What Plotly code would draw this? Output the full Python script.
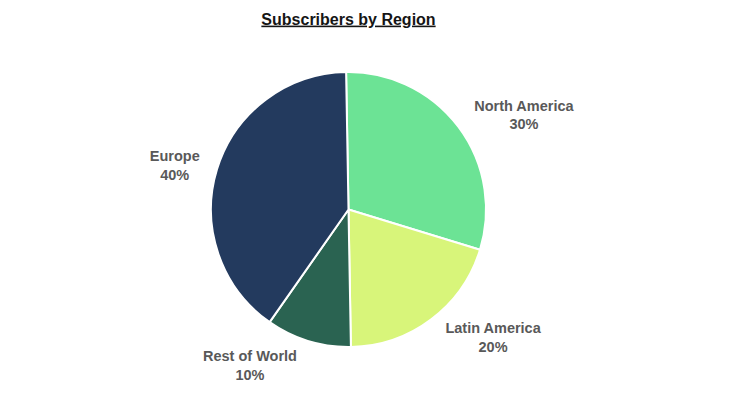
import plotly.graph_objects as go

regions = ["North America", "Latin America", "Rest of World", "Europe"]
shares = [30, 20, 10, 40]
colors = ["#6ce395", "#d8f57a", "#2a6351", "#233a5e"]

FONT = "Liberation Sans, Arial, sans-serif"

# Page body adds an 8px offset; geometry below is in figure pixels.
W, H = 748, 400
cx, cy, r = 340.5, 201.5, 137.5
label_r = r + 9


def dom(rad):
    return dict(x=[(cx - rad) / W, (cx + rad) / W],
                y=[1 - (cy + rad) / H, 1 - (cy - rad) / H])


common = dict(labels=regions, values=shares, sort=False,
              direction="clockwise", rotation=-1)

# Label carrier: a slightly larger, fully transparent pie so the outside
# labels sit a bit further from the visible pie.
label_pie = go.Pie(
    **common,
    marker=dict(colors=["rgba(0,0,0,0)"] * len(regions), line=dict(width=0)),
    texttemplate="<b>%{label}</b><br><b>%{percent:.0%}</b>",
    textposition="outside",
    textfont=dict(family=FONT, size=14.5, color="#595959"),
    hoverinfo="skip",
    domain=dom(label_r),
    automargin=False,
)

main_pie = go.Pie(
    **common,
    marker=dict(colors=colors, line=dict(color="white", width=2)),
    textinfo="none",
    hoverinfo="label+percent",
    domain=dom(r),
    automargin=False,
)

fig = go.Figure([label_pie, main_pie])

fig.update_layout(
    width=W, height=H,
    margin=dict(l=0, r=0, t=0, b=0),
    paper_bgcolor="white",
    plot_bgcolor="white",
    showlegend=False,
    title=dict(
        text="<b><u>Subscribers by Region</u></b>",
        x=cx / W, xanchor="center", y=1 - 11 / H, yanchor="middle",
        font=dict(family=FONT, size=16, color="#151515"),
    ),
)

fig.write_html("out.html")
